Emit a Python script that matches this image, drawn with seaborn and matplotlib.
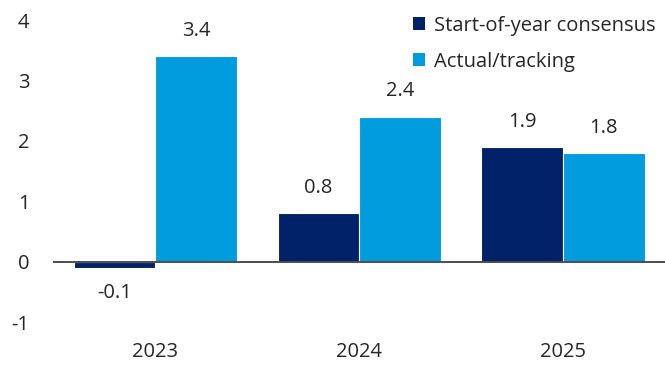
import matplotlib
matplotlib.use("Agg")
import matplotlib.pyplot as plt
import seaborn as sns
import pandas as pd
from matplotlib.patches import Patch

years = ["2023", "2024", "2025"]
consensus = [-0.1, 0.8, 1.9]
actual = [3.4, 2.4, 1.8]
series_names = ["Start-of-year consensus", "Actual/tracking"]
colors = ["#012169", "#009CDE"]

df = pd.DataFrame({
    "year": years * 2,
    "value": consensus + actual,
    "series": [series_names[0]] * 3 + [series_names[1]] * 3,
})

sns.set_theme(style="white")
plt.rcParams["font.family"] = ["Open Sans", "DejaVu Sans"]
plt.rcParams["axes.unicode_minus"] = False

FS = 14.5
TXT = "#262626"

fig = plt.figure(figsize=(6.65, 3.66), dpi=100)
ax = fig.add_axes([0.08, 0.12, 0.92, 0.825])

sns.barplot(data=df, x="year", y="value", hue="series", palette=colors,
            saturation=1, width=0.8, edgecolor="white", linewidth=0.8,
            ax=ax, legend=False)

for container, vals in zip(ax.containers, [consensus, actual]):
    ax.bar_label(container, labels=[f"{v:.1f}" for v in vals], padding=11,
                 fontsize=FS, color=TXT)

ax.set_xlim(-0.5, 2.5)
ax.set_ylim(-1, 4)
ax.set_yticks([-1, 0, 1, 2, 3, 4])
ax.axhline(0, color="#4d4d4d", linewidth=1.4, zorder=5)
for s in ax.spines.values():
    s.set_visible(False)
ax.set_xlabel("")
ax.set_ylabel("")
ax.tick_params(axis="both", length=0, labelsize=FS, colors=TXT)
ax.tick_params(axis="y", pad=17)
ax.tick_params(axis="x", pad=14)

handles = [Patch(facecolor=c, edgecolor="none") for c in colors]
ax.legend(handles, series_names, loc="upper right", bbox_to_anchor=(1.015, 1.075),
          frameon=False, fontsize=FS, handlelength=0.6, handleheight=0.6,
          handletextpad=0.45, labelspacing=0.8)

fig.savefig("out.png", dpi=100)
